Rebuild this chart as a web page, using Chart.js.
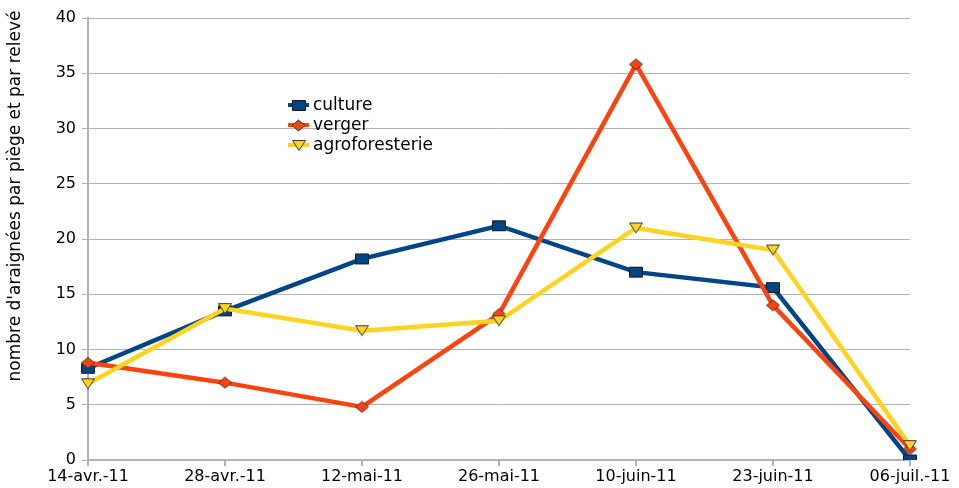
<!DOCTYPE html>
<html>
<head>
<meta charset="utf-8">
<script src="https://cdn.jsdelivr.net/npm/chart.js@4/dist/chart.umd.min.js"></script>
<style>
  html, body { margin: 0; padding: 0; background: #fff; }
  #wrap { width: 959px; height: 488px; position: relative; }
</style>
</head>
<body>
<div id="wrap"><canvas id="c" width="959" height="488"></canvas></div>
<script>
const dates = ['14-avr.-11', '28-avr.-11', '12-mai-11', '26-mai-11', '10-juin-11', '23-juin-11', '06-juil.-11'];
const culture = [8.3, 13.5, 18.2, 21.2, 17.0, 15.6, 0.0];
const verger = [8.8, 7.0, 4.8, 13.2, 35.8, 14.0, 1.0];
const agroforesterie = [6.9, 13.7, 11.7, 12.6, 21.0, 19.0, 1.3];
const yTicks = [0, 5, 10, 15, 20, 25, 30, 35, 40];
const yTitle = "nombre d'araignées par piège et par relevé";

const FONT = '"DejaVu Sans", Verdana, sans-serif';

// Marker sprites: slightly wide square, diamond and downward triangle
function marker(shape, w, h, fill, stroke) {
  const c = document.createElement('canvas');
  c.width = w + 2; c.height = h + 2;
  const g = c.getContext('2d');
  g.fillStyle = fill; g.strokeStyle = stroke; g.lineWidth = 1;
  g.beginPath();
  if (shape === 'square') {
    g.rect(1.5, 1.5, w - 1, h - 1);
  } else if (shape === 'diamond') {
    g.moveTo(1 + w / 2, 1); g.lineTo(1 + w, 1 + h / 2); g.lineTo(1 + w / 2, 1 + h); g.lineTo(1, 1 + h / 2); g.closePath();
  } else {
    g.moveTo(1.5, 1.5); g.lineTo(w + 0.5, 1.5); g.lineTo(1 + w / 2, h + 0.5); g.closePath();
  }
  g.fill(); g.stroke();
  return c;
}

const squareMark = marker('square', 14, 11, '#004586', '#1a1a1a');
const diamondMark = marker('diamond', 13, 11, '#ff420e', '#3a3a3a');
const triangleMark = marker('triangle', 14, 11, '#ffd320', '#3a3a3a');

// Legend drawn inside the plot, upper-left area, plus the rotated y-axis title
const annotations = {
  id: 'annotations',
  afterDatasetsDraw(chart) {
    const ctx = chart.ctx;
    const x0 = 288, y0 = 105, step = 20;
    chart.data.datasets.forEach((ds, i) => {
      const y = y0 + i * step;
      ctx.save();
      ctx.strokeStyle = ds.borderColor;
      ctx.lineWidth = 4;
      ctx.beginPath();
      ctx.moveTo(x0, y);
      ctx.lineTo(x0 + 21, y);
      ctx.stroke();
      const img = ds.pointStyle;
      ctx.drawImage(img, Math.round(x0 + 10.5 - img.width / 2), Math.round(y - img.height / 2));
      ctx.fillStyle = '#000';
      ctx.font = '17px ' + FONT;
      ctx.textBaseline = 'middle';
      ctx.fillText(ds.label, x0 + 25, y + 1);
      ctx.restore();
    });

    ctx.save();
    ctx.translate(16, 196);
    ctx.rotate(-Math.PI / 2);
    ctx.fillStyle = '#000';
    ctx.font = '17px ' + FONT;
    ctx.textAlign = 'center';
    ctx.textBaseline = 'middle';
    ctx.fillText(yTitle, 0, 0);
    ctx.restore();
  }
};

new Chart(document.getElementById('c'), {
  type: 'line',
  data: {
    labels: dates,
    datasets: [
      {
        label: 'culture', data: culture, order: 3,
        borderColor: '#004586', borderWidth: 4.5,
        pointStyle: squareMark, pointRadius: 7, pointHoverRadius: 7
      },
      {
        label: 'verger', data: verger, order: 2,
        borderColor: '#ff420e', borderWidth: 4.5,
        pointStyle: diamondMark, pointRadius: 7, pointHoverRadius: 7
      },
      {
        label: 'agroforesterie', data: agroforesterie, order: 1,
        borderColor: '#ffd320', borderWidth: 4.5,
        pointStyle: triangleMark, pointRadius: 7, pointHoverRadius: 7
      }
    ]
  },
  options: {
    responsive: false,
    animation: false,
    devicePixelRatio: 1,
    layout: { padding: { left: 0, right: 49, top: 18, bottom: 0 } },
    plugins: {
      legend: { display: false },
      tooltip: { enabled: false }
    },
    elements: { line: { tension: 0 } },
    scales: {
      x: {
        offset: false,
        grid: { display: true, drawOnChartArea: false, drawTicks: true, tickLength: 6, color: '#b3b3b3', lineWidth: 2 },
        border: { display: true, color: '#b3b3b3', width: 2 },
        ticks: { color: '#000', font: { family: FONT, size: 16 }, padding: 1, maxRotation: 0, autoSkip: false },
        afterFit(s) { s.height = 28; }
      },
      y: {
        min: 0, max: 40,
        afterBuildTicks(s) { s.ticks = yTicks.map(v => ({ value: v })); },
        grid: { color: '#b3b3b3', lineWidth: 1, drawTicks: true, tickLength: 6 },
        border: { display: true, color: '#b3b3b3', width: 2 },
        ticks: { color: '#000', font: { family: FONT, size: 16 }, padding: 6 },
        afterFit(s) { s.width = 88; }
      }
    }
  },
  plugins: [annotations]
});
</script>
</body>
</html>
